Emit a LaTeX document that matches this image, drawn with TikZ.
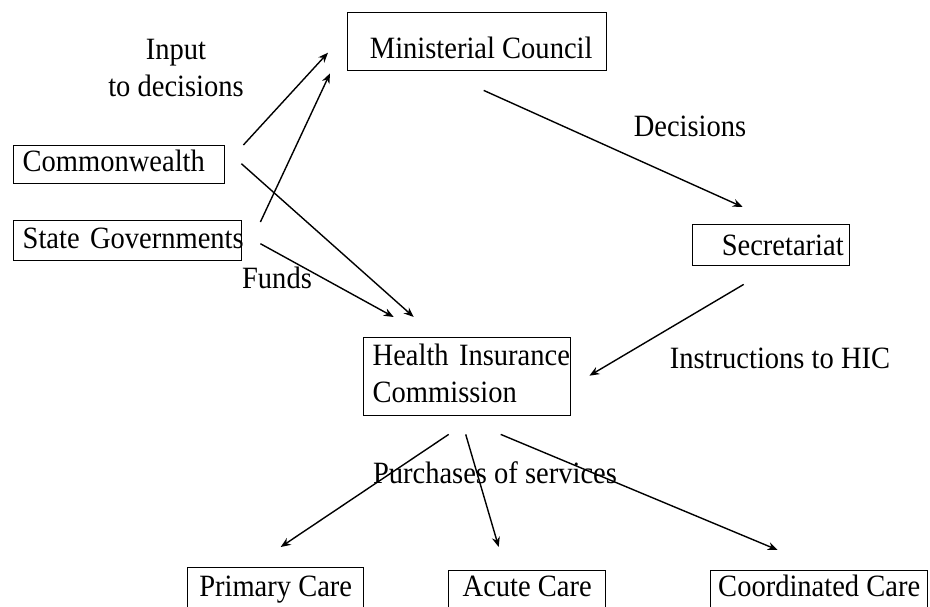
\documentclass[tikz,border=0pt]{standalone}
\usepackage{fontspec}
\setmainfont{Liberation Serif}[FakeStretch=0.92]
\usetikzlibrary{calc,arrows.meta}
\begin{document}
\begin{tikzpicture}[x=1pt,y=-1pt,
  txt/.style={font=\fontsize{31}{37}\selectfont, inner sep=0pt},
  box/.style={txt, draw, line width=1.4pt, anchor=north west, text depth=8pt},
  lbox/.style={box, align=left, inner xsep=9pt},
  cbox/.style={box, align=center},
  lab/.style={txt, anchor=base, align=center},
  arr/.style={line width=1.4pt, -{Stealth[length=10pt,width=8pt]}}]
\useasboundingbox (0,0) rectangle (930,607);
\clip (0,0) rectangle (930,607);
\fill[white] (0,0) rectangle (930,607);
% boxes
\node[cbox, text height=42pt, minimum width=259pt, minimum height=58pt] (mc) at (347,12) {\hspace*{8pt}Ministerial Council};
\node[lbox, text height=22pt, text width=193pt, minimum height=38pt] (cw) at (13,145) {Commonwealth};
\node[lbox, text height=24pt, text width=210pt, minimum height=40pt] (sg) at (13,220) {\mbox{State Governments}};
\node[box, align=right, inner xsep=6pt, text height=29pt, text width=145pt, minimum height=41pt] (sec) at (692,224) {Secretariat};
\node[lbox, text height=20pt, text depth=42pt, text width=189pt, minimum height=78pt] (hic) at (363,337) {\mbox{Health Insurance}\\\mbox{Commission}};
\node[cbox, text height=16pt, minimum width=176pt, minimum height=50pt] (pc) at (187,567) {Primary Care};
\node[cbox, text height=14pt, minimum width=157pt, minimum height=46pt] (ac) at (448,570) {Acute Care};
\node[cbox, text height=14pt, minimum width=217pt, minimum height=46pt] (cc) at (710,570) {\mbox{Coordinated Care}};
% labels
\node[lab] (l1) at (176,97) {Input\\to decisions};
\node[lab] (l2) at (690,137) {Decisions};
\node[lab] (l3) at (277,288) {Funds};
\node[lab] (l4) at (780,368) {Instructions to HIC};
\node[lab] (l5) at (495,483) {Purchases of services};
% arrows
\draw[arr] ($(cw.north east)+(18,0)$) -- ($(mc.west)+(-19,11)$);
\draw[arr] ($(sg.north east)+(18,2)$) -- ($(mc.south west)+(-17,2)$);
\draw[arr] ($(cw.east)+(16,-1)$) -- ($(hic.north)+(-53.5,-20)$);
\draw[arr] ($(sg.east)+(18,3)$) -- ($(hic.north)+(-73.5,-20)$);
\draw[arr] ($(mc.south)+(6.5,19)$) -- ($(sec.north)+(-28.5,-17)$);
\draw[arr] ($(sec.south)+(-27.5,18)$) -- ($(hic.east)+(18,-1)$);
\draw[arr] ($(hic.south)+(-18.5,18)$) -- ($(pc.north)+(5,-20)$);
\draw[arr] ($(hic.south)+(-1.5,18)$) -- ($(ac.north)+(-28.5,-23)$);
\draw[arr] ($(hic.south)+(33.5,18)$) -- ($(cc.north)+(-41.5,-20)$);
\end{tikzpicture}
\end{document}
